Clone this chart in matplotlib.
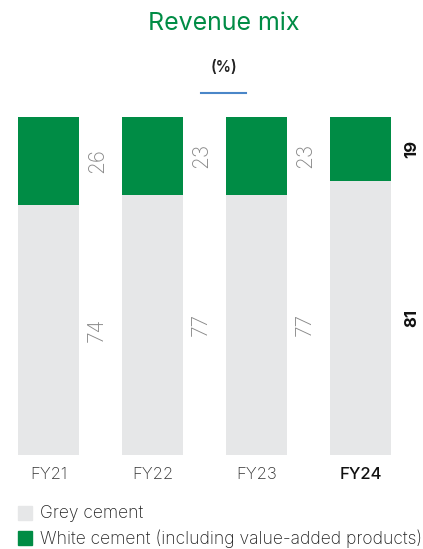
import matplotlib
matplotlib.use("Agg")
import matplotlib.pyplot as plt
from matplotlib.patches import Rectangle
from matplotlib.lines import Line2D

years = ["FY21", "FY22", "FY23", "FY24"]
grey = [74, 77, 77, 81]
white = [26, 23, 23, 19]

GREEN = "#008C45"
GREY = "#E6E7E8"

plt.rcParams['font.family'] = ['Inter', 'DejaVu Sans']

fig = plt.figure(figsize=(4.23, 5.49), dpi=100)
ax = fig.add_axes([0, (549 - 455) / 549, 1, 338 / 549])
x = list(range(len(years)))
w = 61 / 104
ax.bar(x, grey, width=w, color=GREY)
ax.bar(x, white, width=w, bottom=grey, color=GREEN)
ax.set_xlim(-48.5 / 104, (423 - 48.5) / 104)
ax.set_ylim(0, 100)
ax.axis('off')

for i, (g, wv) in enumerate(zip(grey, white)):
    last = i == len(years) - 1
    off = 0.495 if last else 0.466
    kw = dict(rotation=90, ha='center', va='center', fontsize=12 if last else 15,
              color='#111111' if last else '#888888',
              fontweight='bold' if last else 'light')
    ax.text(i + off, g / 2, str(g), **kw)
    ax.text(i + off, g + wv / 2, str(wv), **kw)
    ax.text(i, -5.4 - 0.3, years[i], ha='center', va='center', fontsize=12,
            color='#111111' if last else '#333333',
            fontweight='medium' if last else 'light')

fig.text(224 / 423, 1 - 23 / 549, "Revenue mix", ha='center', va='center',
         fontsize=18, color=GREEN)
fig.text(224 / 423, 1 - 68 / 549, "(%)", ha='center', va='center',
         fontsize=11, color='#222222', fontweight='semibold')
fig.add_artist(Line2D([201 / 423, 246 / 423], [1 - 93 / 549] * 2,
                      color='#4A86C8', lw=1.5, transform=fig.transFigure))

labels = ["Grey cement", "White cement (including value-added products)"]
colors = [GREY, GREEN]
for k, (lab, c) in enumerate(zip(labels, colors)):
    yc = 513 + 25 * k
    fig.add_artist(Rectangle((18 / 423, 1 - (yc + 7) / 549), 14 / 423, 14 / 549,
                             color=c, transform=fig.transFigure))
    fig.text(40 / 423, 1 - (yc + 1) / 549, lab, ha='left', va='center',
             fontsize=12.6, color='#222222', fontweight='light')

fig.savefig("out.png", dpi=100)
